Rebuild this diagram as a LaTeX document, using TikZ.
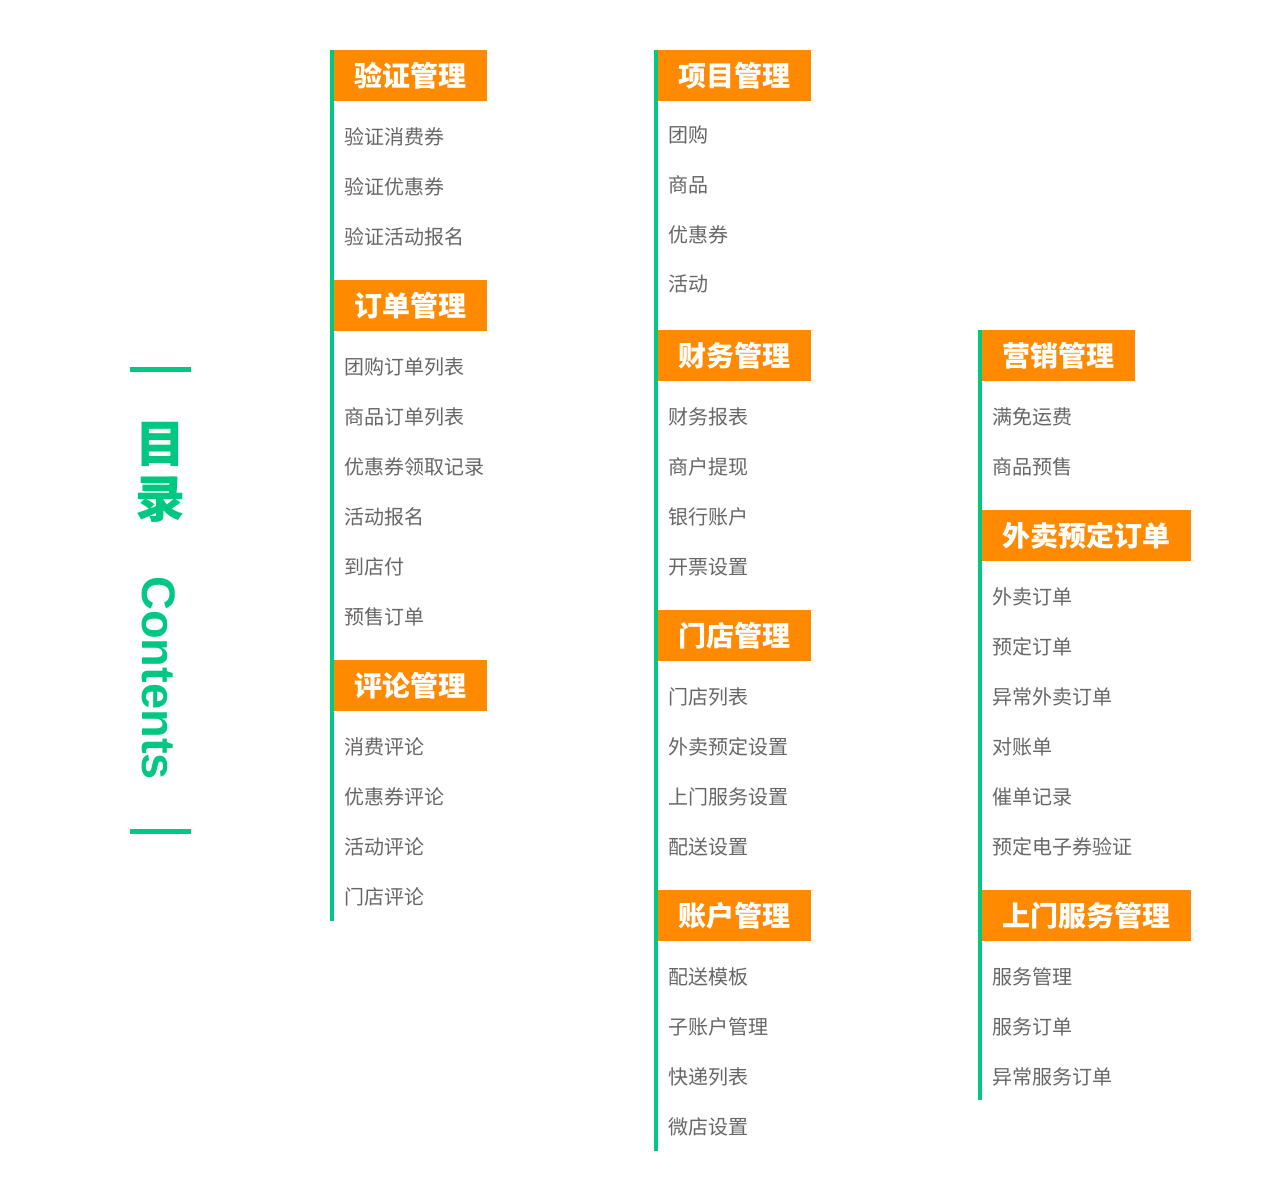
\documentclass[tikz,border=0pt]{standalone}
\usepackage{fontspec}
\newfontfamily\cjk{Noto Sans CJK SC}
\setsansfont{Liberation Sans}
\definecolor{mint}{HTML}{00C781}
\definecolor{tangerine}{HTML}{FF8A00}
\definecolor{itemgray}{HTML}{666666}

\tikzset{
  head/.style={fill=tangerine, text=white, font=\cjk\bfseries\fontsize{28}{30}\selectfont,
    inner xsep=20.5pt, inner ysep=0pt, minimum height=51pt, anchor=north west},
  entry/.style={text=itemgray, font=\cjk\fontsize{20}{22}\selectfont, inner sep=0pt, anchor=west},
  rail/.style={draw=mint, line width=4pt},
  bar/.style={draw=mint, line width=4.5pt}
}

\begin{document}
\begin{tikzpicture}[x=1pt,y=-1pt]
\useasboundingbox (0,0) rectangle (1283,1201);

% title
\begin{scope}
\coordinate (t1) at (130,369.5);
\coordinate (t2) at (130,831.5);
\draw[bar] (t1) -- ++(61,0);
\draw[bar] (t2) -- ++(61,0);
\node[text=mint, font=\cjk\bfseries\fontsize{50}{55}\selectfont, align=center, inner sep=0pt] (mulu) at (160,472) {目\\录};
\node[text=mint, font=\sffamily\bfseries\fontsize{47}{47}\selectfont, rotate=-90, inner sep=0pt] (contents) at (159,678) {Contents};
\end{scope}

% column 1
\begin{scope}
\coordinate (a) at (332,50);
\draw[rail] (a) -- ++(0,871);

\node[head] (yanzheng) at (334,50) {验证管理};
\foreach \t [count=\i] in {验证消费券,验证优惠券,验证活动报名}
  \node[entry] (yanzheng\i) at (344,{87+50*\i}) {\t};

\node[head] (dingdan) at (334,280) {订单管理};
\foreach \t [count=\i] in {团购订单列表,商品订单列表,优惠券领取记录,活动报名,到店付,预售订单}
  \node[entry] (dingdan\i) at (344,{317+50*\i}) {\t};

\node[head] (pinglun) at (334,660) {评论管理};
\foreach \t [count=\i] in {消费评论,优惠券评论,活动评论,门店评论}
  \node[entry] (pinglun\i) at (344,{697+50*\i}) {\t};
\end{scope}

% column 2
\begin{scope}
\coordinate (b) at (656,50);
\draw[rail] (b) -- ++(0,1101);

\node[head] (xiangmu) at (658,50) {项目管理};
\foreach \t [count=\i] in {团购,商品,优惠券,活动}
  \node[entry] (xiangmu\i) at (668,{85.5+49.7*\i}) {\t};

\node[head] (caiwu) at (658,330) {财务管理};
\foreach \t [count=\i] in {财务报表,商户提现,银行账户,开票设置}
  \node[entry] (caiwu\i) at (668,{367+50*\i}) {\t};

\node[head] (mendian) at (658,610) {门店管理};
\foreach \t [count=\i] in {门店列表,外卖预定设置,上门服务设置,配送设置}
  \node[entry] (mendian\i) at (668,{647+50*\i}) {\t};

\node[head] (zhanghu) at (658,890) {账户管理};
\foreach \t [count=\i] in {配送模板,子账户管理,快递列表,微店设置}
  \node[entry] (zhanghu\i) at (668,{927+50*\i}) {\t};
\end{scope}

% column 3
\begin{scope}
\coordinate (c) at (980,330);
\draw[rail] (c) -- ++(0,770);

\node[head] (yingxiao) at (982,330) {营销管理};
\foreach \t [count=\i] in {满免运费,商品预售}
  \node[entry] (yingxiao\i) at (992,{367+50*\i}) {\t};

\node[head] (waimai) at (982,510) {外卖预定订单};
\foreach \t [count=\i] in {外卖订单,预定订单,异常外卖订单,对账单,催单记录,预定电子券验证}
  \node[entry] (waimai\i) at (992,{547+50*\i}) {\t};

\node[head] (shangmen) at (982,890) {上门服务管理};
\foreach \t [count=\i] in {服务管理,服务订单,异常服务订单}
  \node[entry] (shangmen\i) at (992,{927+50*\i}) {\t};
\end{scope}

\end{tikzpicture}
\end{document}
